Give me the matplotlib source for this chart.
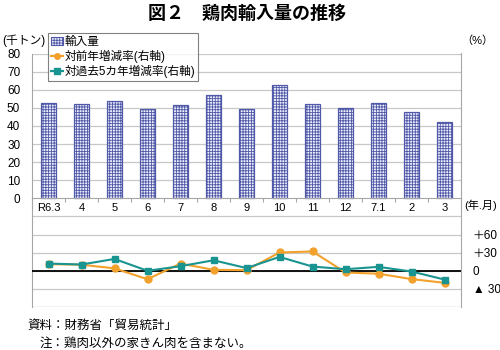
import numpy as np
import matplotlib
matplotlib.use("Agg")
import matplotlib.pyplot as plt
from matplotlib.patches import Patch
from matplotlib.lines import Line2D

plt.rcParams['font.family'] = ['Liberation Sans', 'Noto Sans CJK JP', 'DejaVu Sans']
plt.rcParams['hatch.linewidth'] = 0.6

categories = ["R6.3", "4", "5", "6", "7", "8", "9", "10", "11", "12", "7.1", "2", "3"]
imports = [52.8, 52.0, 53.5, 49.5, 51.8, 57.0, 49.2, 62.6, 52.0, 50.0, 52.5, 47.5, 42.2]
yoy_change = [11, 10, 4, -14, 12, 1.6, 1, 30.3, 32, -2.8, -4.9, -13.7, -20]
five_year_change = [12, 10.4, 19.6, 0, 7.6, 17.4, 4.5, 23, 7, 2.6, 6.5, -1.2, -14.5]
left_ticks = [0, 10, 20, 30, 40, 50, 60, 70, 80]
right_ticks = [-30, 0, 30, 60]
right_labels = ["▲ 30", "0", "＋30", "＋60"]

ORANGE = "#F2A12C"
TEAL = "#1A9490"
GRID = "#c8c8c8"
SPINE = "#a6a6a6"
BAR_FACE = "#eceefa"
BAR_EDGE = "#5058a8"

fig = plt.figure(figsize=(5, 3.5), dpi=100)
ax = fig.add_axes([32/500, 1-307/350, (461-32)/500, (307-53.5)/350])
x = np.arange(len(categories))

ax.set_xlim(-0.5, len(categories) - 0.5)
ax.set_ylim(-60, 80)

for v in range(-50, 81, 10):
    if v != 0:
        ax.axhline(v, color=GRID, lw=0.9, zorder=0)
ax.axhline(-60, color=SPINE, lw=0.9, zorder=0)

ax.bar(x, imports, width=0.45, color=BAR_FACE, edgecolor=BAR_EDGE, hatch="++++++",
       linewidth=0.9, zorder=2)

for s in ["top", "right"]:
    ax.spines[s].set_visible(False)
ax.spines["left"].set_color(SPINE)
ax.spines["bottom"].set_color(SPINE)
ax.spines["bottom"].set_position(("data", 0))
ax.set_xticks(np.arange(-0.5, len(categories), 1))
ax.set_xticklabels([])
ax.tick_params(axis="x", length=3, color=SPINE, direction="out")
ax.set_yticks(left_ticks)
ax.set_yticklabels([str(t) for t in left_ticks], fontsize=8.5)
ax.tick_params(axis="y", length=0, pad=8.5)

for xi, c in zip(x, categories):
    ax.text(xi, -5.5, c, ha="center", va="center", fontsize=8)

ax2 = ax.twinx()
ax2.set_ylim(-60, 360)
ax2.axhline(0, color="black", lw=1.3, zorder=1)
ax2.plot(x, yoy_change, color=ORANGE, lw=1.5, marker="o", markersize=5, zorder=3)
ax2.plot(x, five_year_change, color=TEAL, lw=1.5, marker="s", markersize=5, zorder=4)
ax2.set_yticks(right_ticks)
ax2.set_yticklabels(right_labels, fontsize=8.5)
ax2.tick_params(axis="y", length=0, pad=8.5)
for s in ["top", "left", "bottom"]:
    ax2.spines[s].set_visible(False)
ax2.spines["right"].set_color(SPINE)

handles = [
    Patch(facecolor=BAR_FACE, edgecolor=BAR_EDGE, hatch="++++++", linewidth=0.8),
    Line2D([], [], color=ORANGE, lw=1.5, marker="o", markersize=4),
    Line2D([], [], color=TEAL, lw=1.5, marker="s", markersize=4),
]
labels = ["輸入量", "対前年増減率(右軸)", "対過去5カ年増減率(右軸)"]
leg = fig.legend(handles, labels, loc="upper left", bbox_to_anchor=(48/500, 1-33/350),
                 fontsize=8.4, frameon=True, fancybox=False, edgecolor="#606060",
                 handlelength=1.0, handletextpad=0.2, borderpad=0.25, labelspacing=0.15,
                 borderaxespad=0)
leg.get_frame().set_linewidth(0.8)

fig.text(247/500, 1-13/350, "図２　鶏肉輸入量の推移", ha="center", va="center",
         fontsize=13, weight="bold", family=["Noto Sans CJK JP"])
fig.text(2/500, 1-41/350, "(千トン)", ha="left", va="center", fontsize=8.5)
fig.text(461/500, 1-41/350, "（%）", ha="left", va="center", fontsize=8)
fig.text(464/500, 1-205/350, "(年.月)", ha="left", va="center", fontsize=8)
fig.text(27/500, 1-325/350, "資料：財務省「貿易統計」", ha="left", va="center",
         fontsize=9, family=["Noto Sans CJK JP"])
fig.text(40/500, 1-343/350, "注：鶏肉以外の家きん肉を含まない。", ha="left", va="center",
         fontsize=9, family=["Noto Sans CJK JP"])

fig.savefig("out.png", dpi=100)
